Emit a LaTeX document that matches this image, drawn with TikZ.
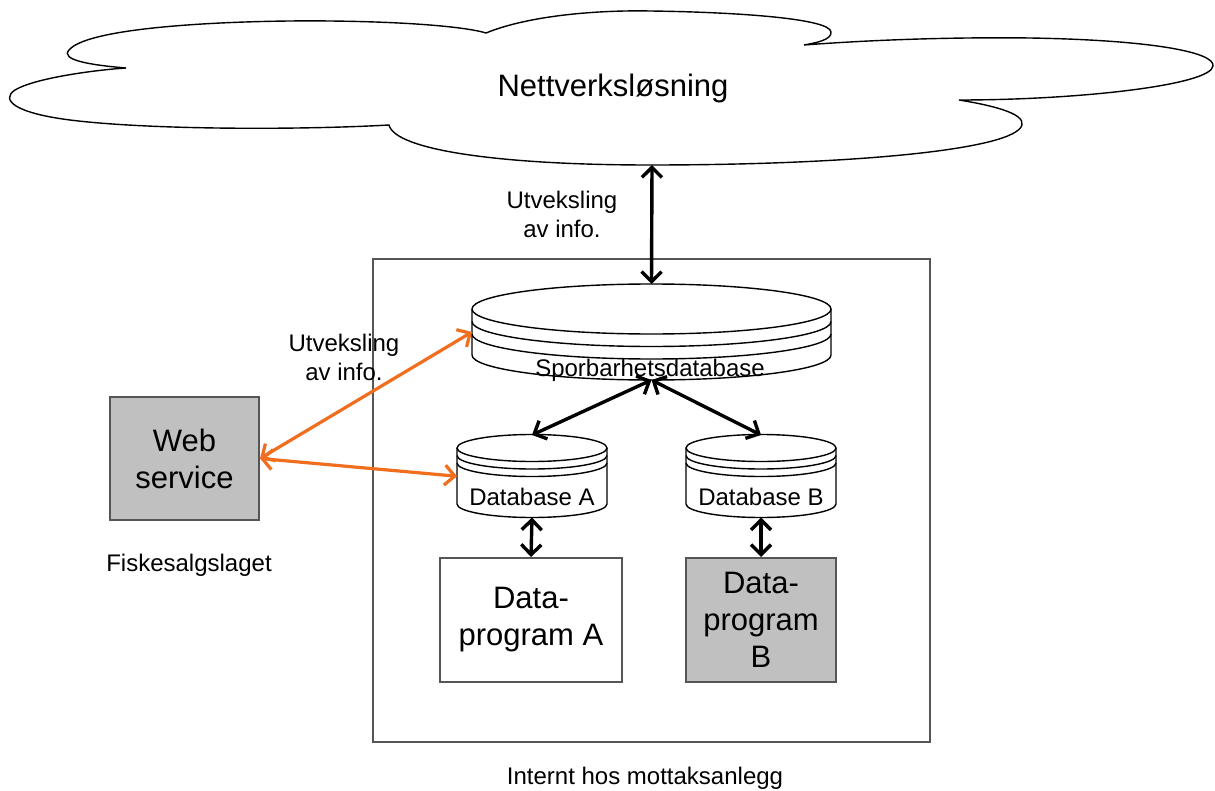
\documentclass[tikz,border=0pt]{standalone}
\usepackage{fontspec}
\setmainfont{Liberation Sans}
\usetikzlibrary{arrows.meta}
\definecolor{infoorange}{RGB}{240,110,30}
\definecolor{fillgray}{RGB}{192,192,192}
\definecolor{framegray}{RGB}{85,85,85}
\tikzset{
  lbl/.style={font=\fontsize{12}{14.5}\selectfont, align=center, inner sep=0pt},
  bigtext/.style={font=\fontsize{15.5}{18.5}\selectfont, align=center, inner sep=0pt},
  prgbox/.style={draw=framegray, line width=1pt, inner sep=0pt, align=center,
    font=\fontsize{15.5}{18.5}\selectfont},
  hull/.style={inner sep=0pt, outer sep=0pt},
  dbline/.style={line width=0.7pt},
  link/.style={line width=1.7pt, {Straight Barb[length=5pt,width=10pt]}-{Straight Barb[length=5pt,width=10pt]}},
  infolink/.style={link, draw=infoorange, line width=1.6pt}
}
% cylinder: cx, y of top ellipse, x radius, y radius, ring gap, y of bottom ellipse
\newcommand{\dbstack}[6]{%
  \fill[white] (#1-#3,#2) -- (#1-#3,#6) arc[start angle=180, end angle=0, x radius=#3, y radius=#4] -- (#1+#3,#2) -- cycle;
  \draw[dbline] (#1-#3,#2) -- (#1-#3,#6) arc[start angle=180, end angle=0, x radius=#3, y radius=#4] -- (#1+#3,#2);
  \draw[dbline, fill=white] (#1,#2) ellipse [x radius=#3, y radius=#4];
  \draw[dbline] (#1-#3,#2+#5) arc[start angle=180, end angle=0, x radius=#3, y radius=#4];
  \draw[dbline] (#1-#3,#2+2*#5) arc[start angle=180, end angle=0, x radius=#3, y radius=#4];
}
\begin{document}
\begin{tikzpicture}[x=0.5pt, y=-0.5pt]
\useasboundingbox[fill=white] (0,0) rectangle (1215,791);

% the cloud
\draw[line width=0.7pt, fill=white] (486,33) .. controls (530,15) and (600,10) .. (650,11)
  .. controls (730,12) and (830,18) .. (831,32) .. controls (832,40) and (815,43) .. (804,45)
  .. controls (870,40) and (950,37) .. (1030,38) .. controls (1150,40) and (1215,52) .. (1213,66)
  .. controls (1211,85) and (1080,100) .. (959,100)
  .. controls (990,105) and (1025,113) .. (1022,125) .. controls (1015,150) and (850,165) .. (650,165)
  .. controls (500,165) and (395,150) .. (389,125)
  .. controls (300,130) and (150,130) .. (70,120) .. controls (15,113) and (0,100) .. (15,90)
  .. controls (35,78) and (95,70) .. (126,68)
  .. controls (90,65) and (60,60) .. (69,50) .. controls (90,25) and (250,20) .. (330,21)
  .. controls (420,22) and (470,28) .. (486,33) -- cycle;
\node[bigtext] (nett) at (613,88) {Nettverksløsning};
\coordinate (nettbunn) at (652,165);

% internal part
\node[draw=framegray, line width=1pt, minimum width=278.5pt, minimum height=241.5pt, inner sep=0pt] (mottak) at (651.5,500.5) {};
\node[lbl] (mottaklbl) at (645,778) {Internt hos mottaksanlegg};

\dbstack{651.5}{309}{179.5}{25}{12.5}{355}
\node[hull, minimum width=179.5pt, minimum height=48pt] (spdb) at (651.5,332) {};
\node[lbl] (spdblbl) at (650,370) {Sporbarhetsdatabase};

\dbstack{532}{448}{75}{13.5}{7.5}{504}
\node[hull, minimum width=75pt, minimum height=41.25pt] (dba) at (532,476.25) {};
\node[lbl] (dbalbl) at (532,497) {Database A};

\dbstack{761}{448}{75}{13.5}{7.5}{504}
\node[hull, minimum width=75pt, minimum height=41.25pt] (dbb) at (761,476.25) {};
\node[lbl] (dbblbl) at (761,497) {Database B};

\node[prgbox, fill=white, minimum width=91pt, minimum height=62pt] (prga) at (531,620) {Data-\\program A};
\node[prgbox, fill=fillgray, minimum width=75pt, minimum height=62pt] (prgb) at (761,620) {Data-\\program\\B};

% outside
\node[prgbox, fill=fillgray, minimum width=74.5pt, minimum height=61.5pt] (web) at (184.5,458.5) {Web\\service};
\node[lbl] (fiske) at (189,565) {Fiskesalgslaget};

\node[lbl] (utv1) at (562,214) {Utveksling\\av info.};
\node[lbl] (utv2) at (344,357) {Utveksling\\av info.};

% connections
\draw[link] (nettbunn) -- (spdb.north);
\draw[link] (spdb.south) -- (dba.north);
\draw[link] (spdb.south) -- (dbb.north);
\draw[link] (dba.south) -- (prga.north);
\draw[link] (dbb.south) -- (prgb.north);
\draw[infolink] (web.east) -- (spdb.west);
\draw[infolink] (web.east) -- (dba.west);
\end{tikzpicture}
\end{document}
